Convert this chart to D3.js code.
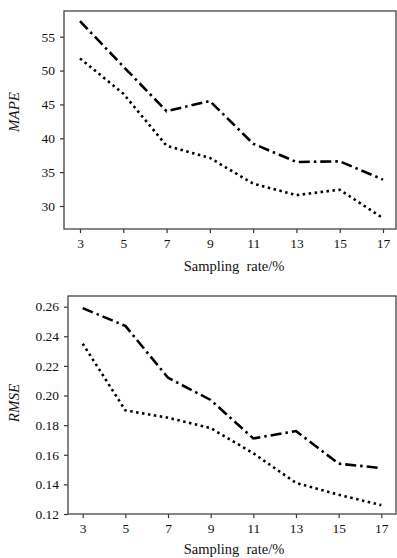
<!DOCTYPE html>
<html>
<head>
<meta charset="utf-8">
<script src="https://cdn.jsdelivr.net/npm/d3@7"></script>
<style>
  body { margin: 0; background: #fff; }
  svg { display: block; }
</style>
</head>
<body>
<svg width="397" height="558"></svg>
<script>
const rates = [3, 5, 7, 9, 11, 13, 15, 17]

const mapeA = [57.3, 50.6, 44.0, 45.5, 39.2, 36.5, 36.6, 33.9]
const mapeB = [51.8, 46.6, 38.9, 37.1, 33.3, 31.6, 32.4, 28.2]
const mapeTicks = [30, 35, 40, 45, 50, 55]

const rmseA = [0.259, 0.247, 0.212, 0.197, 0.171, 0.176, 0.154, 0.151]
const rmseB = [0.235, 0.190, 0.185, 0.178, 0.161, 0.141, 0.133, 0.126]
const rmseTicks = [0.12, 0.14, 0.16, 0.18, 0.20, 0.22, 0.24, 0.26]

const FONT = "'Liberation Serif', 'DejaVu Serif', serif"
const svg = d3.select('svg')

drawPanel({
  left: 64, right: 396, top: 11, bottom: 229,
  xRange: [80, 383],
  yDomain: [26.6, 58.8],
  ticks: mapeTicks, fmt: d3.format('d'),
  series: [mapeA, mapeB],
  yLabel: 'MAPE', yLabelY: 112, xLabelY: 271,
})

drawPanel({
  left: 68, right: 396, top: 296, bottom: 514,
  xRange: [82.7, 381.3],
  yDomain: [0.12, 0.2672],
  ticks: rmseTicks, fmt: d3.format('.2f'),
  series: [rmseA, rmseB],
  yLabel: 'RMSE', yLabelY: 403, xLabelY: 554,
})

function drawPanel(o) {
  const x = d3.scaleLinear().domain([3, 17]).range(o.xRange)
  const y = d3.scaleLinear().domain(o.yDomain).range([o.bottom, o.top])
  const g = svg.append('g')

  const xAxis = d3.axisBottom(x).tickValues(rates).tickSize(4).tickPadding(5)
  const yAxis = d3.axisLeft(y).tickValues(o.ticks).tickFormat(o.fmt).tickSize(4).tickPadding(5)

  const gx = g.append('g').attr('transform', `translate(0,${o.bottom})`).call(xAxis)
  const gy = g.append('g').attr('transform', `translate(${o.left},0)`).call(yAxis)
  for (const a of [gx, gy]) {
    a.attr('font-family', null).attr('font-size', null)
    a.select('.domain').remove()
    a.selectAll('line').attr('stroke', '#333').attr('stroke-width', 1.2)
    a.selectAll('text')
      .style('font-family', FONT)
      .style('font-size', '13.5px')
      .attr('fill', '#111')
  }

  g.append('rect')
    .attr('x', o.left).attr('y', o.top)
    .attr('width', o.right - o.left).attr('height', o.bottom - o.top)
    .attr('fill', 'none').attr('stroke', '#444').attr('stroke-width', 1.3)

  const line = d3.line().x((d, i) => x(rates[i])).y((d) => y(d))
  const dashes = ['11,4,2.5,4', '2.5,3.5']
  o.series.forEach((s, i) => {
    g.append('path')
      .datum(s)
      .attr('d', line)
      .attr('fill', 'none')
      .attr('stroke', '#000')
      .attr('stroke-width', 2.6)
      .attr('stroke-dasharray', dashes[i])
  })

  g.append('text')
    .attr('transform', `translate(19,${o.yLabelY}) rotate(-90)`)
    .attr('text-anchor', 'middle')
    .attr('fill', '#111')
    .style('font-family', FONT)
    .style('font-size', '15px')
    .style('font-style', 'italic')
    .text(o.yLabel)

  g.append('text')
    .attr('x', 234).attr('y', o.xLabelY)
    .attr('text-anchor', 'middle')
    .attr('fill', '#111')
    .style('font-family', FONT)
    .style('font-size', '14.5px')
    .style('white-space', 'pre')
    .text('Sampling  rate/%')
}
</script>
</body>
</html>
